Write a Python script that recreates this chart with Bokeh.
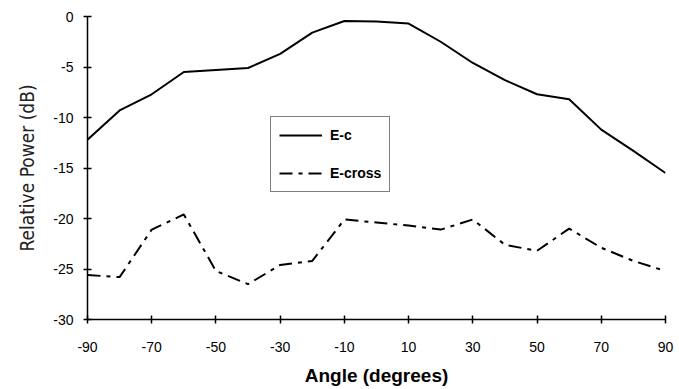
from bokeh.plotting import figure
from bokeh.models import FixedTicker, Range1d, Legend, LegendItem
from bokeh.embed import file_html
from bokeh.resources import INLINE

angles = [-90, -80, -70, -60, -50, -40, -30, -20, -10, 0, 10, 20, 30, 40, 50, 60, 70, 80, 90]
e_c = [-12.2, -9.3, -7.7, -5.5, -5.3, -5.1, -3.7, -1.6, -0.45, -0.5, -0.7, -2.5, -4.6, -6.3, -7.7, -8.2, -11.2, -13.3, -15.5]
e_cross = [-25.6, -25.8, -21.1, -19.6, -25.2, -26.5, -24.6, -24.2, -20.1, -20.4, -20.7, -21.1, -20.1, -22.6, -23.2, -21.0, -22.9, -24.2, -25.2]
x_ticks = [-90, -70, -50, -30, -10, 10, 30, 50, 70, 90]
y_ticks = [-30, -25, -20, -15, -10, -5, 0]

p = figure(width=679, height=389, output_backend="svg", toolbar_location=None,
           x_range=Range1d(-90, 90), y_range=Range1d(-30, 0),
           min_border_left=87, min_border_right=14, min_border_top=16, min_border_bottom=70)
p.outline_line_color = None
p.xgrid.visible = False
p.ygrid.visible = False
p.background_fill_color = "white"
p.border_fill_color = "white"

r1 = p.line(angles, e_c, line_color="black", line_width=2)
r2 = p.line(angles, e_cross, line_color="black", line_width=2, line_dash="13 6 4 6")

for ax in (p.xaxis[0], p.yaxis[0]):
    ax.axis_line_color = "black"
    ax.axis_line_width = 1.5
    ax.major_tick_line_color = "black"
    ax.major_tick_line_width = 1.5
    ax.major_tick_in = 4
    ax.major_tick_out = 4
    ax.minor_tick_line_color = None
    ax.major_label_text_font = "Liberation Sans"
    ax.major_label_text_font_size = "14px"
    ax.major_label_text_color = "black"

p.xaxis.ticker = FixedTicker(ticks=x_ticks)
p.yaxis.ticker = FixedTicker(ticks=y_ticks)
p.xaxis.major_label_overrides = {t: str(t) for t in x_ticks}
p.yaxis.major_label_overrides = {t: str(t) for t in y_ticks}
p.xaxis.major_label_standoff = 18
p.yaxis.major_label_standoff = 10

p.xaxis.axis_label = "Angle (degrees)"
p.xaxis.axis_label_text_font = "Liberation Sans"
p.xaxis.axis_label_text_font_style = "bold"
p.xaxis.axis_label_text_font_size = "19px"
p.xaxis.axis_label_text_color = "black"
p.xaxis.axis_label_standoff = 10

p.yaxis.axis_label = "Relative Power (dB)"
p.yaxis.axis_label_text_font = "DejaVu Sans Condensed, Roboto, sans-serif"
p.yaxis.axis_label_text_font_style = "normal"
p.yaxis.axis_label_text_font_size = "19px"
p.yaxis.axis_label_text_color = "#222222"
p.yaxis.axis_label_standoff = 12

legend = Legend(items=[LegendItem(label="E-c", renderers=[r1]),
                       LegendItem(label="E-cross", renderers=[r2])],
                location=(183, 127))
legend.label_text_font = "Liberation Sans"
legend.label_text_font_style = "bold"
legend.label_text_font_size = "14px"
legend.label_text_color = "black"
legend.glyph_width = 43
legend.glyph_height = 20
legend.label_standoff = 8
legend.spacing = 18
legend.padding = 8
legend.margin = 0
legend.border_line_color = "black"
legend.border_line_width = 1
legend.background_fill_alpha = 1
p.add_layout(legend, "center")

open("out.html", "w").write(file_html(p, INLINE))
